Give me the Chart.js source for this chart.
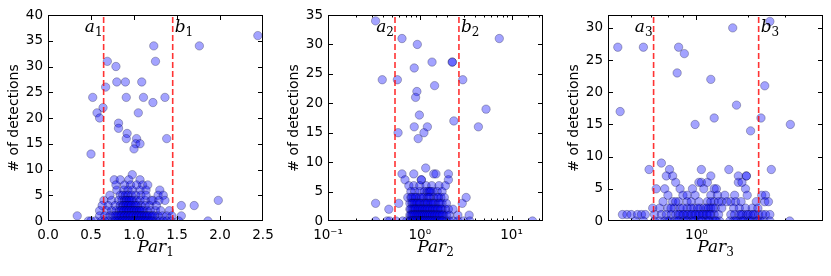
<!DOCTYPE html>
<html>
<head>
<meta charset="utf-8">
<script src="https://cdn.jsdelivr.net/npm/chart.js@4.4.1/dist/chart.umd.min.js"></script>
<style>
  html, body { margin: 0; padding: 0; background: #fff; overflow: hidden; }
  canvas { position: absolute; top: 0; }
</style>
</head>
<body>
<canvas id="chart1" width="280" height="276" style="left:0px"></canvas>
<canvas id="chart2" width="280" height="276" style="left:280px"></canvas>
<canvas id="chart3" width="271" height="276" style="left:560px"></canvas>
<script>
// ---- data: [parameter value, # of detections] ----
const par1Points = [
  [2.44,36],[1.76,34],[1.23,34],[1.25,31],[0.69,31],[0.79,30],
  [0.80,27],[0.90,27],[1.09,27],[0.67,26],
  [0.52,24],[0.91,24],[1.11,24],[1.36,24],[1.22,23],[0.64,22],
  [0.57,21],[1.05,21],[0.60,20],[0.82,19],[0.82,18],[0.92,17],
  [0.91,16],[1.03,16],[1.38,16],[1.02,15],[1.07,15],[1.00,14],[0.50,13],
  [0.98,9],
  [0.77,8],[0.84,8],[0.94,8],[1.07,8],
  [0.79,7],[0.89,7],[0.96,7],[1.03,7],[1.10,7],[1.16,7],
  [0.80,6],[0.88,6],[0.93,6],[0.98,6],[1.07,6],[1.14,6],[1.30,6],
  [0.72,5],[0.84,5],[0.87,5],[0.90,5],[0.93,5],[0.97,5],[1.02,5],[1.08,5],[1.14,5],[1.28,5],[1.34,5],
  [0.65,4],[0.74,4],[0.82,4],[0.86,4],[0.89,4],[0.92,4],[0.95,4],[0.99,4],[1.03,4],[1.07,4],[1.13,4],[1.20,4],[1.22,4],[1.29,4],[1.36,4],[1.98,4],
  [0.91,4],[0.94,4],[0.97,4],
  [0.63,3],[0.70,3],[0.78,3],[0.84,3],[0.87,3],[0.90,3],[0.93,3],[0.96,3],[1.00,3],[1.04,3],[1.08,3],[1.13,3],[1.18,3],[1.26,3],[1.55,3],[1.70,3],
  [0.88,3],[0.91,3],[0.94,3],[0.97,3],[1.02,3],
  [0.60,2],[0.68,2],[0.74,2],[0.79,2],[0.83,2],[0.86,2],[0.89,2],[0.92,2],[0.95,2],[0.98,2],[1.01,2],[1.04,2],[1.07,2],[1.11,2],[1.15,2],[1.19,2],[1.25,2],[1.31,2],[1.41,2],
  [0.85,2],[0.88,2],[0.91,2],[0.94,2],[0.97,2],[1.00,2],[1.03,2],[1.06,2],[1.09,2],
  [0.34,1],[0.60,1],[0.66,1],[0.72,1],[0.76,1],[0.80,1],[0.83,1],[0.86,1],[0.88,1],[0.90,1],[0.92,1],[0.95,1],[0.97,1],[1.00,1],[1.02,1],[1.05,1],[1.08,1],[1.10,1],[1.13,1],[1.16,1],[1.20,1],[1.24,1],[1.28,1],[1.33,1],[1.38,1],[1.44,1],[1.55,1],
  [0.78,1],[0.82,1],[0.85,1],[0.89,1],[0.93,1],[0.96,1],[0.99,1],[1.03,1],[1.06,1],[1.09,1],[1.12,1],[1.15,1],[1.18,1],[1.22,1],
  [0.47,0],[0.50,0],[0.55,0],[0.62,0],[0.66,0],[0.70,0],[0.75,0],[0.80,0],[0.84,0],[0.87,0],[0.90,0],[0.93,0],[0.96,0],[0.99,0],[1.02,0],[1.05,0],[1.08,0],[1.11,0],[1.14,0],[1.18,0],[1.22,0],[1.26,0],[1.30,0],[1.34,0],[1.38,0],[1.43,0],[1.52,0],[1.86,0],
  [0.78,0],[0.82,0],[0.86,0],[0.89,0],[0.92,0],[0.95,0],[0.98,0],[1.01,0],[1.04,0],[1.07,0],[1.10,0],[1.13,0],[1.16,0],[1.20,0]
];

const par2Points = [
  [0.33,34],[0.64,31],[7.35,31],[0.94,30],[1.36,27],[2.26,27],[2.26,27],[0.87,26],
  [0.39,24],[0.57,24],[2.94,24],[1.45,23],[0.93,22],[0.90,21],[5.27,19],[0.99,18],
  [2.35,17],[0.87,16],[1.21,16],[4.35,16],[0.58,15],[1.11,15],[0.96,14],
  [1.16,9],
  [0.64,8],[0.86,8],[1.42,8],[1.50,8],[2.05,8],
  [0.69,7],[1.04,7],[1.04,7],[2.05,7],
  [0.76,6],[0.86,6],[1.00,6],[1.17,6],[1.35,6],[1.62,6],[1.90,6],
  [0.80,5],[0.88,5],[1.00,5],[1.12,5],[1.20,5],[1.28,5],[1.40,5],[1.55,5],[1.75,5],
  [1.25,5],[1.32,5],
  [0.74,4],[0.80,4],[0.86,4],[0.93,4],[1.00,4],[1.10,4],[1.20,4],[1.30,4],[1.42,4],[1.55,4],[1.70,4],[1.85,4],[3.20,4],
  [0.82,4],[0.90,4],[1.05,4],[1.25,4],[1.60,4],
  [0.33,3],[0.59,3],[0.78,3],[0.84,3],[0.90,3],[0.96,3],[1.03,3],[1.10,3],[1.18,3],[1.27,3],[1.37,3],[1.48,3],[1.60,3],[1.75,3],[1.95,3],[2.90,3],
  [0.82,3],[0.87,3],[0.93,3],[1.00,3],[1.14,3],[1.22,3],[1.32,3],[1.42,3],[1.66,3],
  [0.46,2],[0.78,2],[0.83,2],[0.88,2],[0.93,2],[0.98,2],[1.04,2],[1.10,2],[1.17,2],[1.25,2],[1.33,2],[1.42,2],[1.52,2],[1.62,2],[1.75,2],[1.90,2],[2.05,2],[2.30,2],
  [0.80,2],[0.86,2],[0.90,2],[0.96,2],[1.01,2],[1.07,2],[1.14,2],[1.21,2],[1.29,2],[1.38,2],[1.47,2],[1.57,2],[1.70,2],
  [0.78,1],[0.82,1],[0.86,1],[0.90,1],[0.95,1],[1.00,1],[1.05,1],[1.10,1],[1.16,1],[1.22,1],[1.28,1],[1.35,1],[1.42,1],[1.50,1],[1.60,1],[1.70,1],[1.82,1],[1.95,1],[2.10,1],[2.60,1],[3.45,1],
  [0.80,1],[0.84,1],[0.88,1],[0.93,1],[0.98,1],[1.03,1],[1.08,1],[1.13,1],[1.19,1],[1.25,1],[1.31,1],[1.38,1],[1.46,1],[1.55,1],[1.65,1],[1.76,1],
  [0.33,0],[0.44,0],[0.47,0],[0.55,0],[0.65,0],[0.72,0],[0.78,0],[0.82,0],[0.86,0],[0.90,0],[0.95,0],[1.00,0],[1.05,0],[1.10,0],[1.16,0],[1.22,0],[1.28,0],[1.35,0],[1.42,0],[1.50,0],[1.60,0],[1.70,0],[1.80,0],[1.95,0],[2.10,0],[2.30,0],[2.60,0],[3.00,0],[3.50,0],[16.9,0],
  [0.80,0],[0.84,0],[0.88,0],[0.93,0],[0.98,0],[1.03,0],[1.08,0],[1.13,0],[1.19,0],[1.25,0],[1.31,0],[1.38,0],[1.46,0],[1.55,0],[1.65,0],[1.76,0]
];

const par3Points = [
  [0.54,27],[0.66,27],[0.55,17],[1.33,30],[1.78,31],[0.87,27],[0.91,26],[0.86,23],
  [1.12,22],[1.71,21],[1.37,18],[1.15,16],[1.66,16],[0.99,15],[2.09,15],[1.53,14],
  [0.76,9],
  [0.69,8],[0.81,8],[1.04,8],[1.29,8],[1.80,8],
  [0.79,7],[0.83,7],[1.12,7],[1.39,7],[1.48,7],[1.48,7],
  [0.85,6],[1.02,6],[1.04,6],[1.09,6],[1.39,6],[1.43,6],
  [0.73,5],[0.78,5],[0.88,5],[0.97,5],[1.06,5],[1.15,5],[1.17,5],[1.47,5],
  [0.80,4],[0.90,4],[0.93,4],[0.99,4],[1.12,4],[1.18,4],[1.25,4],[1.35,4],[1.49,4],[1.67,4],[1.72,4],
  [0.77,3],[0.83,3],[0.87,3],[0.93,3],[1.02,3],[1.09,3],[1.15,3],[1.22,3],[1.27,3],[1.31,3],[1.36,3],[1.42,3],[1.60,3],[1.71,3],[1.76,3],
  [0.85,3],[0.96,3],[1.12,3],[1.19,3],
  [0.71,2],[0.75,2],[0.80,2],[0.84,2],[0.88,2],[0.93,2],[0.98,2],[1.03,2],[1.08,2],[1.12,2],[1.16,2],[1.22,2],[1.34,2],[1.40,2],[1.47,2],[1.55,2],[1.62,2],
  [0.82,2],[0.90,2],[0.96,2],[1.01,2],[1.06,2],[1.10,2],[1.14,2],
  [0.56,1],[0.58,1],[0.60,1],[0.63,1],[0.65,1],[0.67,1],[0.72,1],[0.76,1],[0.79,1],[0.82,1],[0.85,1],[0.88,1],[0.91,1],[0.94,1],[0.97,1],[1.00,1],[1.03,1],[1.06,1],[1.09,1],[1.12,1],[1.15,1],[1.19,1],[1.31,1],[1.35,1],[1.40,1],[1.44,1],[1.48,1],[1.53,1],[1.58,1],[1.63,1],[1.68,1],[1.72,1],[1.78,1],
  [0.87,1],[0.90,1],[0.93,1],[0.96,1],[0.99,1],[1.02,1],[1.05,1],[1.08,1],[1.11,1],[1.42,1],[1.50,1],[1.56,1],
  [0.62,0],[0.66,0],[0.72,0],[0.75,0],[0.78,0],[0.81,0],[0.84,0],[0.87,0],[0.90,0],[0.93,0],[0.96,0],[0.99,0],[1.02,0],[1.05,0],[1.08,0],[1.11,0],[1.14,0],[1.17,0],[1.20,0],[1.30,0],[1.34,0],[1.38,0],[1.42,0],[1.46,0],[1.50,0],[1.55,0],[1.60,0],[1.65,0],[1.70,0],[1.78,0],[2.08,0],
  [0.80,0],[0.86,0],[0.92,0],[0.98,0],[1.04,0],[1.10,0],[1.16,0],[1.36,0],[1.44,0],[1.52,0],[1.62,0]
];

// cut positions (a_i, b_i)
const par1Cuts = [0.647, 1.45];
const par2Cuts = [0.537, 2.67];
const par3Cuts = [0.715, 1.63];

// axis limits
const par1XRange = [0, 2.5];
const par2XRange = [0.1, 22];
const par3XRange = [0.5, 2.7];
const yMaxes = [40, 35, 32];

Chart.defaults.font.family = '"DejaVu Sans", sans-serif';
Chart.defaults.font.size = 13.5;
Chart.defaults.color = '#000';

const supers = { '-': '\u207b', '0': '\u2070', '1': '\u00b9', '2': '\u00b2', '3': '\u00b3' };
function powLabel(v) {
  const e = Math.log10(v);
  if (Math.abs(e - Math.round(e)) > 1e-9) return '';
  return '10' + String(Math.round(e)).split('').map(c => supers[c]).join('');
}

function isMajor(scale, v) {
  if (scale.type !== 'logarithmic') return true;
  const e = Math.log10(v);
  return Math.abs(e - Math.round(e)) < 1e-9;
}

// frame, inward ticks, cut labels and the x title, drawn like matplotlib
const mplDecor = {
  id: 'mplDecor',
  afterDraw(chart, args, opts) {
    const { ctx, chartArea: a } = chart;
    const xs = chart.scales.x, ys = chart.scales.y;
    ctx.save();
    ctx.strokeStyle = '#000';
    ctx.lineWidth = 1;
    ctx.strokeRect(a.left + 0.5, a.top + 0.5, a.right - a.left - 1, a.bottom - a.top - 1);

    ctx.beginPath();
    xs.ticks.forEach(t => {
      const px = Math.round(xs.getPixelForValue(t.value)) + 0.5;
      if (px < a.left + 2 || px > a.right - 2) return;
      const len = isMajor(xs, t.value) ? 5 : 2.5;
      ctx.moveTo(px, a.bottom); ctx.lineTo(px, a.bottom - len);
      ctx.moveTo(px, a.top); ctx.lineTo(px, a.top + len);
    });
    ys.ticks.forEach(t => {
      const py = Math.round(ys.getPixelForValue(t.value)) + 0.5;
      if (py < a.top + 2 || py > a.bottom - 2) return;
      ctx.moveTo(a.left, py); ctx.lineTo(a.left + 5, py);
      ctx.moveTo(a.right, py); ctx.lineTo(a.right - 5, py);
    });
    ctx.stroke();

    // a_i / b_i next to the dashed lines
    const big = 'italic 17px "DejaVu Serif"';
    const small = '12px "DejaVu Serif"';
    function mathText(main, sub, x, y, alignRight) {
      ctx.font = big;
      const w1 = ctx.measureText(main).width;
      ctx.font = small;
      const w2 = ctx.measureText(sub).width;
      const x0 = alignRight ? x - w1 - w2 : x;
      ctx.font = big;
      ctx.fillText(main, x0, y);
      ctx.font = small;
      ctx.fillText(sub, x0 + w1, y + 4);
    }
    ctx.fillStyle = '#000';
    ctx.textBaseline = 'alphabetic';
    ctx.textAlign = 'left';
    const pa = xs.getPixelForValue(opts.cuts[0]);
    const pb = xs.getPixelForValue(opts.cuts[1]);
    mathText('a', opts.index, pa - 1, a.top + 17, true);
    mathText('b', opts.index, pb + 2, a.top + 17, false);

    // x axis title
    ctx.font = big;
    const w1 = ctx.measureText('Par').width;
    ctx.font = small;
    const w2 = ctx.measureText(opts.index).width;
    const cx = (a.left + a.right) / 2;
    mathText('Par', opts.index, cx - (w1 + w2) / 2, 252, false);
    ctx.restore();
  }
};

function makeChart(id, index, points, cuts, xType, xRange, yMax) {
  const ctx = document.getElementById(id).getContext('2d');
  const cutLines = cuts.map(c => ({
    type: 'line',
    data: [{ x: c, y: 0 }, { x: c, y: yMax }],
    borderColor: 'rgba(255,0,0,0.8)',
    borderWidth: 1.6,
    borderDash: [6, 3],
    pointRadius: 0,
    order: 0,
    clip: 0
  }));

  const width = ctx.canvas.width;
  return new Chart(ctx, {
    type: 'scatter',
    data: {
      datasets: [{
        data: points.map(p => ({ x: p[0], y: p[1] })),
        backgroundColor: 'rgba(0,0,255,0.36)',
        borderColor: 'rgba(0,0,40,0.4)',
        borderWidth: 0.7,
        pointRadius: 4.2,
        order: 1,
        clip: 0
      }, ...cutLines]
    },
    options: {
      responsive: false,
      animation: false,
      devicePixelRatio: 1,
      layout: { padding: { left: 0, top: 15, right: width - 263, bottom: 0 } },
      plugins: {
        legend: { display: false },
        tooltip: { enabled: false },
        mplDecor: { cuts: cuts, index: index }
      },
      scales: {
        x: {
          type: xType,
          min: xRange[0],
          max: xRange[1],
          grid: { display: false, drawTicks: false },
          border: { display: false },
          ticks: {
            padding: 6,
            autoSkip: false,
            maxRotation: 0,
            stepSize: 0.5,
            callback: xType === 'logarithmic' ? (v) => powLabel(v) : (v) => v.toFixed(1)
          },
          afterFit: (s) => { s.height = 276 - 15 - 206; }
        },
        y: {
          min: 0,
          max: yMax,
          grid: { display: false, drawTicks: false },
          border: { display: false },
          ticks: { stepSize: 5, padding: 5, includeBounds: false },
          title: {
            display: true,
            text: '# of detections',
            font: { size: 14 },
            padding: { top: 6, bottom: 0 }
          },
          afterFit: (s) => { s.width = 48; }
        }
      }
    },
    plugins: [mplDecor]
  });
}

makeChart('chart1', '1', par1Points, par1Cuts, 'linear', par1XRange, yMaxes[0]);
makeChart('chart2', '2', par2Points, par2Cuts, 'logarithmic', par2XRange, yMaxes[1]);
makeChart('chart3', '3', par3Points, par3Cuts, 'logarithmic', par3XRange, yMaxes[2]);
</script>
</body>
</html>
